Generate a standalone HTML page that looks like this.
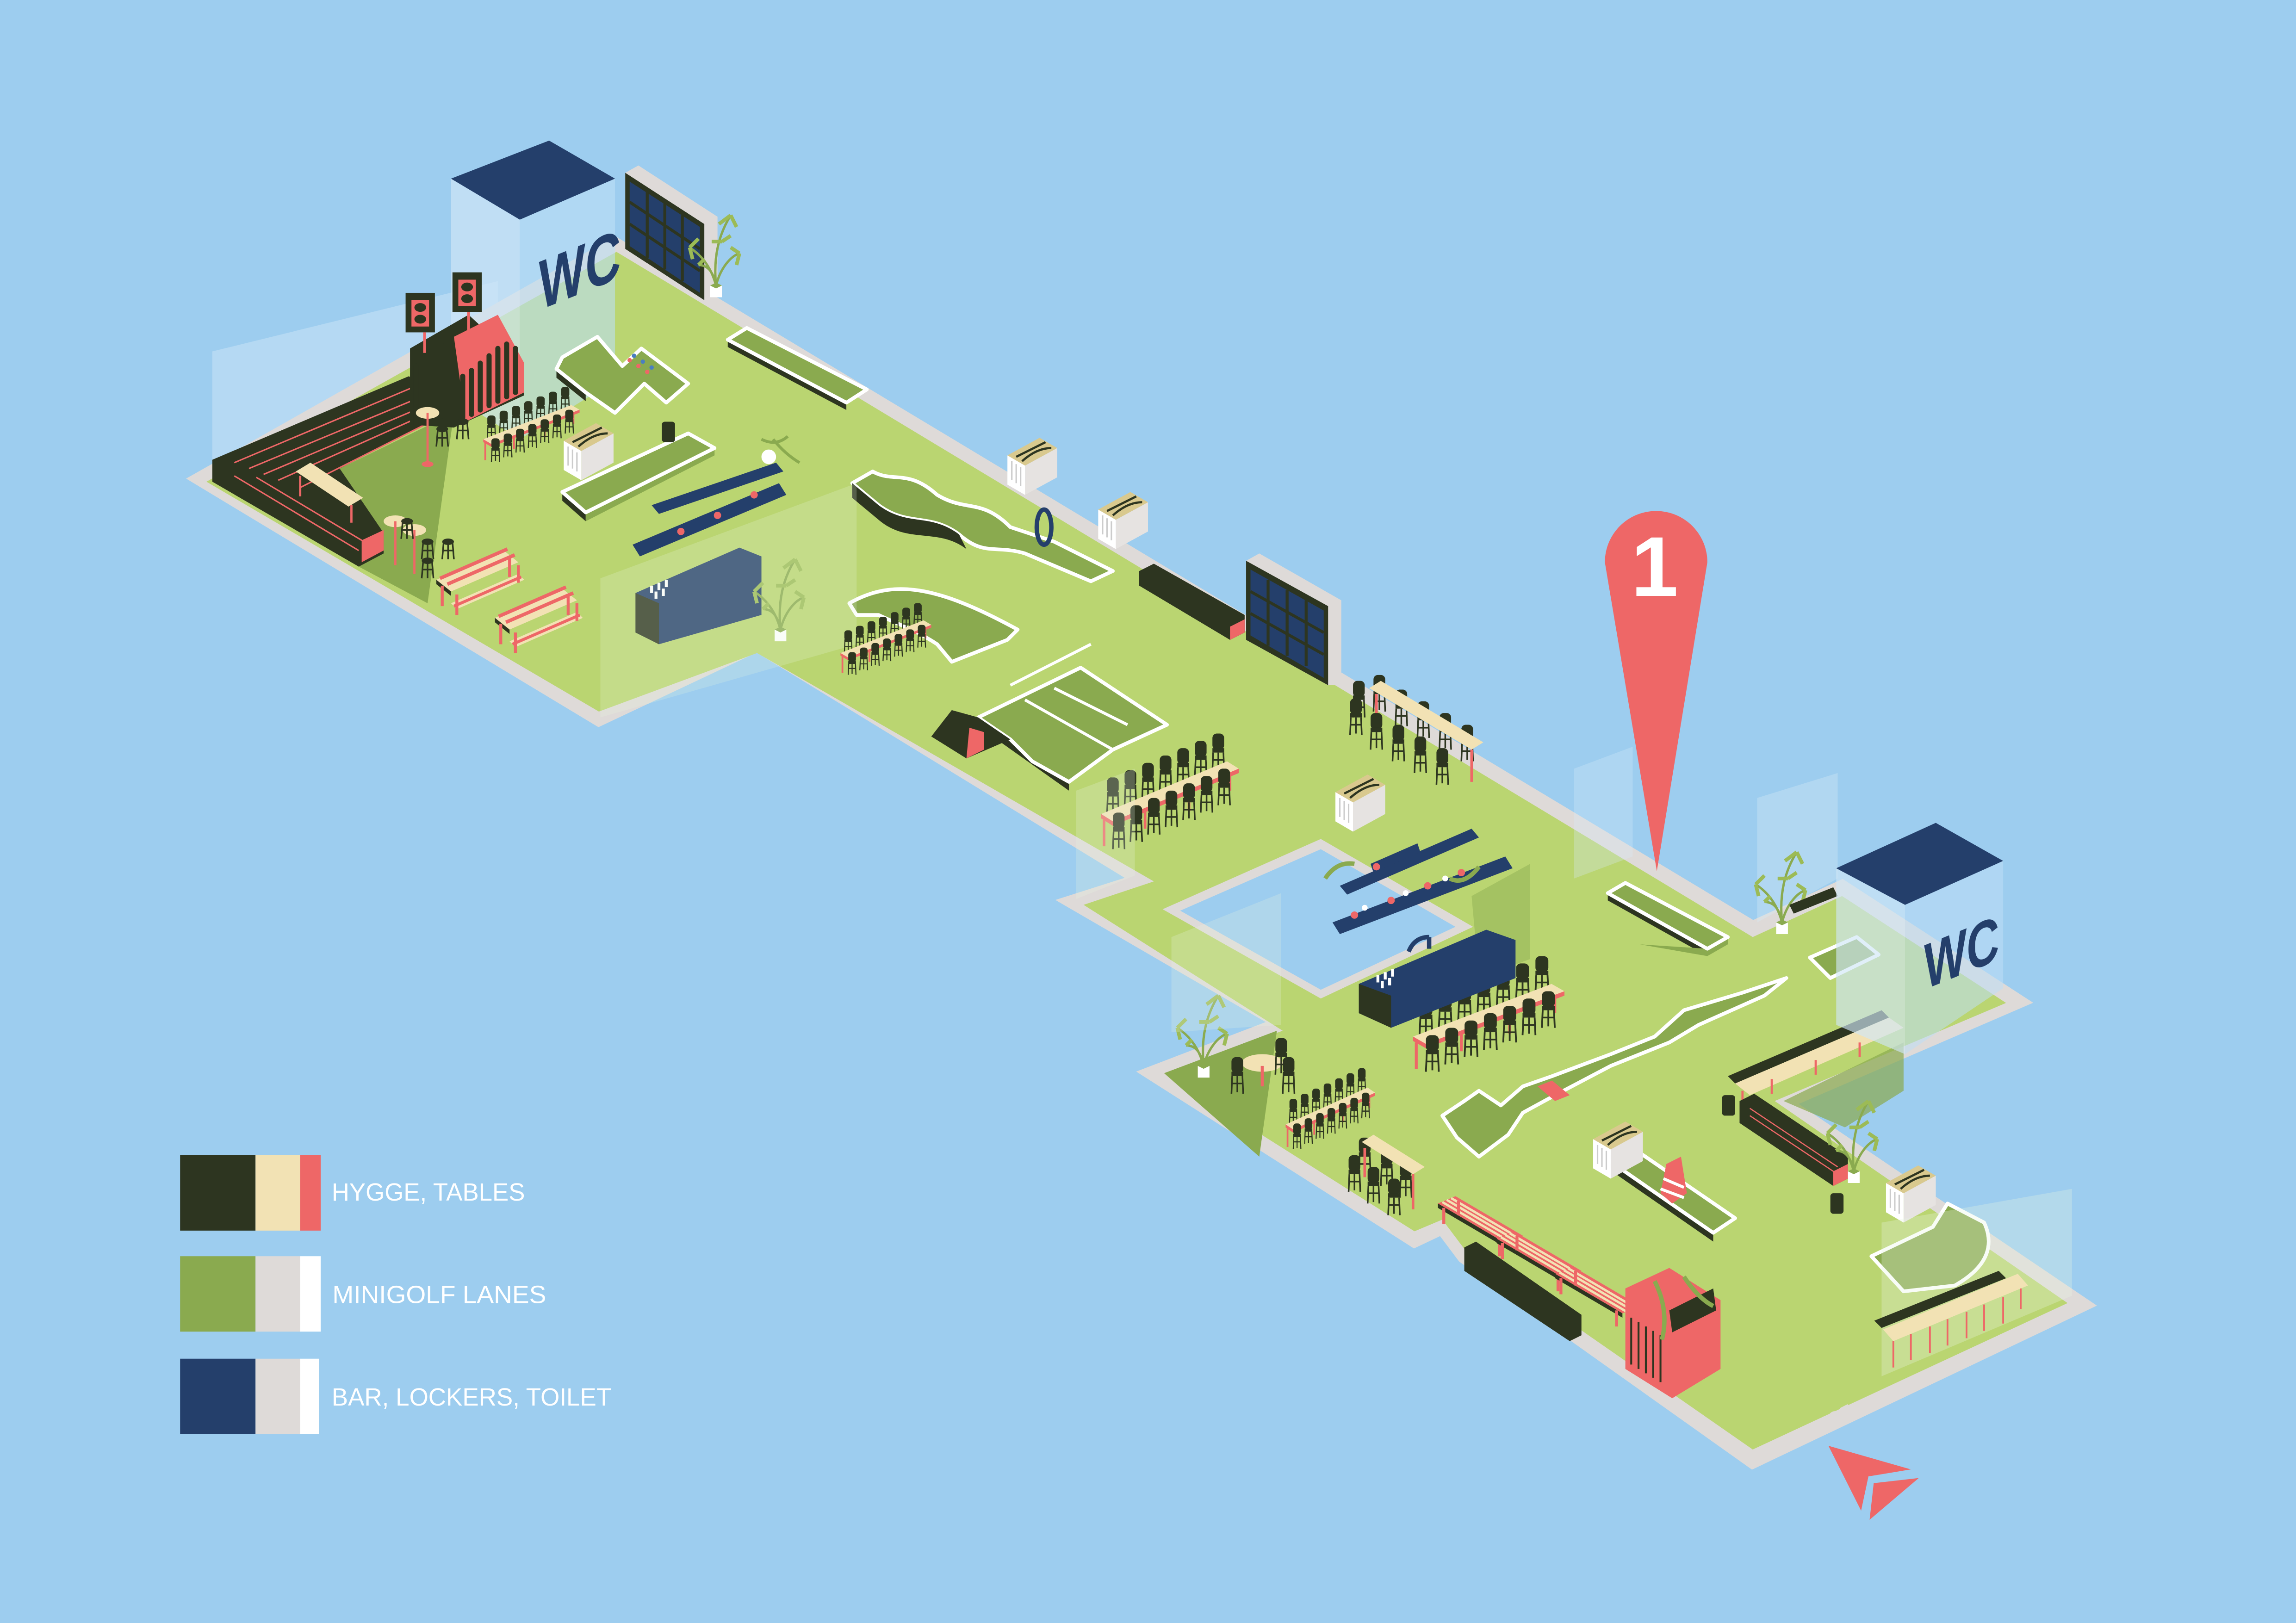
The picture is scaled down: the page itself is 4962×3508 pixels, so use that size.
<!DOCTYPE html>
<html><head><meta charset="utf-8"><style>html,body{margin:0;padding:0;background:#9dcdef}svg{display:block}</style></head>
<body>
<svg width="4962" height="3508" viewBox="0 0 1568 1108.5" xmlns="http://www.w3.org/2000/svg" font-family="'Liberation Sans', sans-serif">
<defs>
<g id="ch"><rect x="-4" y="-13" width="8" height="11" rx="3" fill="#2d3520"/><rect x="-4" y="-3" width="8" height="3" fill="#2d3520"/><path d="M-3.5,0 L-4,12 M3.5,0 L4,12 M0,0 L0,11 M-3.5,5 L3.5,5" stroke="#2d3520" stroke-width="1.1" fill="none"/></g>
<g id="st"><ellipse cx="0" cy="-2" rx="4" ry="2.2" fill="#2d3520"/><path d="M-3,-2 L-4,10 M3,-2 L4,10 M0,-1 L0,10 M-3,4 L3,4" stroke="#2d3520" stroke-width="1.1"/></g>
<g id="tb">
 <use href="#ch" x="8" y="-12"/><use href="#ch" x="20" y="-17"/><use href="#ch" x="32" y="-22"/><use href="#ch" x="44" y="-27"/><use href="#ch" x="56" y="-32"/><use href="#ch" x="68" y="-37"/><use href="#ch" x="80" y="-42"/>
 <path d="M2,4 L2,22 M88,-34 L88,-16 M30,-8 L30,10 M60,-20 L60,-2" stroke="#ee6767" stroke-width="1.8"/>
 <polygon points="0,0 86,-36 94,-31 8,5" fill="#f2e2b4"/><polygon points="0,0 8,5 8,8 0,3" fill="#ee6767"/><polygon points="8,5 94,-31 94,-28 8,8" fill="#ee6767"/>
 <use href="#ch" x="12" y="12"/><use href="#ch" x="24" y="7"/><use href="#ch" x="36" y="2"/><use href="#ch" x="48" y="-3"/><use href="#ch" x="60" y="-8"/><use href="#ch" x="72" y="-13"/><use href="#ch" x="84" y="-18"/>
</g>
<g id="pic">
 <polygon points="0,0 12,-5 58,22 46,27" fill="#ee6767"/>
 <path d="M3,-1 L49,26 M6,-2.5 L52,24.5 M9,-3.7 L55,23.3" stroke="#f2e2b4" stroke-width="1.6"/>
 <polygon points="0,0 46,27 46,30 0,3" fill="#2d3520"/>
 <path d="M4,3 L4,14 M42,25 L42,36 M14,-2 L14,8 M52,22 L52,32" stroke="#ee6767" stroke-width="2"/>
</g>
<g id="picb">
 <polygon points="0,0 46,-20 56,-12 10,8" fill="#f2e2b4"/>
 <path d="M2.5,-1 L48.5,-21 M7.5,3 L53.5,-17" stroke="#ee6767" stroke-width="2.4"/>
 <polygon points="0,0 10,8 10,11 0,3" fill="#2d3520"/>
 <polygon points="10,16 56,-4 60,0 14,20" fill="#f2e2b4"/><path d="M12,18 L58,-2" stroke="#ee6767" stroke-width="2"/>
 <path d="M4,4 v14 M50,-16 v14 M14,10 v14 M56,-10 v12" stroke="#ee6767" stroke-width="2"/>
</g>
<g id="plant"><path d="M0,0 C-2,-20 2,-35 10,-48 M0,0 C-4,-15 -12,-22 -18,-26 M0,0 C3,-12 10,-20 16,-22 M0,0 C-2,-10 -6,-14 -12,-14" stroke="#8aaa4f" stroke-width="1.6" fill="none"/>
 <path d="M10,-48 l-8,6 M10,-48 l4,8 M-18,-26 l6,-6 M-18,-26 l2,8 M16,-22 l-6,-4 M16,-22 l-2,8 M-12,-14 l4,-4 M4,-30 l-7,0 M4,-30 l6,-4" stroke="#9cbb56" stroke-width="2.5"/>
 <rect x="-4" y="0" width="8" height="8" fill="#fff"/><polygon points="-4,0 0,-2 4,0 0,2" fill="#8aaa4f"/></g>
<g id="box"><polygon points="0,0 22,-12 22,8 0,20" fill="#e6e3e1"/><polygon points="0,0 -12,-7 -12,13 0,20" fill="#fff"/><polygon points="-12,-7 10,-19 22,-12 0,0" fill="#d9c98e"/><path d="M-6,-6 L14,-16 M-2,-3 Q8,-12 18,-12" stroke="#2d3520" stroke-width="1.5" fill="none"/><path d="M-9,-3 v13 M-6,-1 v13 M-3,1 v13" stroke="#ccc" stroke-width="1"/></g>
</defs>

<rect width="1568" height="1108.5" fill="#9dcdef"/>
<polygon points="145,240 340,192 340,300 145,314" fill="#c9e4f6" opacity="0.55"/>

<!-- floor -->
<polygon points="137,327 420,167 1197,634 1258,606 1378,684 1218,753 1422,891 1197,998 1000,858 985,838 966,847 787,733 876,699 733,616 780,601 517,440 409,491" fill="#dedad8" stroke="#dedad8" stroke-width="10" stroke-linejoin="miter"/>
<polygon points="141,329 421,172 1197,640 1258,612 1370,685 1212,752 1412,890 1197,990 1000,853 985,833 966,841 795,733 876,704 740,618 788,602 517,446 409,486" fill="#bad571"/>
<polygon points="232,320 310,282 292,412 245,387 262,370" fill="#8aaa4f"/>
<polygon points="795,733 872,704 860,790" fill="#8aaa4f"/>
<polygon points="1218,752 1300,712 1300,745 1260,770" fill="#8aaa4f" opacity="0.7"/>
<polygon points="794,621 902,573 1006,633 902,682" fill="#dedad8"/>
<polygon points="806,622 902,580 994,633 902,676" fill="#9dcdef"/>

<!-- WC left (behind stage) -->
<polygon points="308,122 355,150 355,300 308,270" fill="#cfe6f6" opacity="0.7"/>
<polygon points="355,150 420,122 420,260 355,300" fill="#bddff5" opacity="0.6"/>
<polygon points="308,122 375,96 420,122 355,150" fill="#243f6b"/>
<text x="0" y="0" font-size="48" font-weight="bold" fill="#243f6b" transform="translate(368,212) skewY(-22) scale(0.7,1)">WC</text>

<!-- stage L -->
<polygon points="145,314 279,257 296,262 310,280 232,320 262,364 262,378 245,387 145,329" fill="#2d3520"/>
<path d="M160,316 L288,262 M170,320 L295,268 M180,324 L300,273 M190,328 L304,277 M205,333 L308,281 M160,325 L245,376 M175,326 L252,372" stroke="#ee6767" stroke-width="1"/>
<polygon points="247,369 262,362 262,376 247,384" fill="#ee6767"/>
<polygon points="280,238 320,215 358,250 358,270 310,292 280,290" fill="#2d3520"/>
<polygon points="310,230 340,215 358,248 358,268 318,288" fill="#ee6767"/>
<path d="M316,285 v-28 M322,283 v-30 M328,280 v-32 M334,277 v-34 M340,274 v-36 M346,271 v-36 M352,268 v-30" stroke="#2d3520" stroke-width="3.5" stroke-linecap="round"/>
<path d="M284,290 v-40 M290,288 v-44 M296,286 v-46 M302,284 v-48" stroke="#2d3520" stroke-width="3.5" stroke-linecap="round"/>
<rect x="277" y="200" width="20" height="27" fill="#2d3520"/><rect x="281" y="205" width="12" height="18" fill="#ee6767"/><ellipse cx="287" cy="210" rx="4" ry="3" fill="#2d3520"/><ellipse cx="287" cy="218" rx="4" ry="3" fill="#2d3520"/>
<rect x="309" y="186" width="20" height="27" fill="#2d3520"/><rect x="313" y="191" width="12" height="18" fill="#ee6767"/><ellipse cx="319" cy="196" rx="4" ry="3" fill="#2d3520"/><ellipse cx="319" cy="204" rx="4" ry="3" fill="#2d3520"/>
<path d="M290,227 v14 M320,213 v28" stroke="#ee6767" stroke-width="2"/>
<polygon points="202,322 212,316 248,340 238,346" fill="#f2e2b4"/><path d="M205,325 v14 M240,345 v12" stroke="#ee6767" stroke-width="1.5"/>
<ellipse cx="292" cy="282" rx="8" ry="4" fill="#f2e2b4"/><path d="M292,282 v34" stroke="#ee6767" stroke-width="1.5"/><ellipse cx="292" cy="317" rx="4" ry="2" fill="#ee6767"/>
<ellipse cx="270" cy="356" rx="8" ry="4" fill="#f2e2b4"/><path d="M270,356 v30" stroke="#ee6767" stroke-width="1.5"/>
<ellipse cx="283" cy="362" rx="8" ry="4" fill="#f2e2b4"/><path d="M283,362 v30" stroke="#ee6767" stroke-width="1.5"/>
<use href="#st" x="302" y="295"/><use href="#st" x="316" y="290"/><use href="#st" x="278" y="358"/><use href="#st" x="292" y="372"/><use href="#st" x="306" y="372"/><use href="#st" x="292" y="385"/>

<!-- window wall left -->
<polygon points="427,118 436,113 490,148 490,200 481,205 427,170" fill="#dedad8"/>
<polygon points="427,118 481,153 481,205 427,170" fill="#2d3520"/>
<polygon points="430,124 478,155 478,200 430,168" fill="#243f6b"/>
<path d="M442,131 v45 M454,139 v45 M466,147 v45 M430,138 L478,170 M430,153 L478,185" stroke="#2d3520" stroke-width="2"/>
<use href="#plant" x="489" y="195"/>

<!-- lane side faces -->
<g fill="#2d3520">
<polygon points="497,232 578,275 578,280 497,237"/>
<polygon points="380,252 400,268 400,274 380,258"/>
<polygon points="384,336 400,350 400,356 384,342"/>
<polygon points="400,350 488,306 488,311 400,356" fill="#8aaa4f"/>
<polygon points="668,490 730,534 730,540 668,496"/>
<polygon points="1098,610 1166,648 1166,653 1098,615"/>
<polygon points="1095,790 1170,842 1170,848 1095,796"/>
<polygon points="1120,645 1166,648 1180,640 1180,645 1166,653" fill="#8aaa4f"/>
</g>
<!-- lanes -->
<g stroke="#fff" stroke-width="2.5" fill="#8aaa4f" stroke-linejoin="round">
<polygon points="497,232 510,224 592,266 578,275" />
<polygon points="384,244 408,230 425,250 438,238 470,262 455,275 440,262 420,282 400,268 380,252" />
<polygon points="384,336 470,296 488,306 400,350" />
<path d="M582,330 L596,322 C610,330 620,320 640,338 C660,350 670,340 690,360 L720,370 L760,390 L745,397 L700,378 C680,372 672,380 655,365 C635,350 620,360 600,345 Z" />
<path d="M580,412 C610,395 640,400 695,430 L688,437 L650,452 L640,440 C625,430 610,425 600,420 L585,420 Z" />
<polygon points="668,490 738,456 797,495 760,512 730,534 705,520 690,505" />
<polygon points="1098,610 1110,603 1180,640 1166,648" />
<polygon points="985,762 1000,752 1010,745 1025,755 1040,742 1060,735 1100,720 1130,708 1150,690 1190,678 1220,668 1205,680 1160,700 1140,712 1100,728 1062,748 1040,760 1030,775 1010,790 995,777" />
<polygon points="1095,790 1112,782 1185,832 1170,842" />
<path d="M1278,858 L1320,838 L1330,822 L1355,835 C1362,850 1358,865 1335,878 L1300,882 Z" />
<polygon points="1236,654 1268,640 1283,652 1250,668" />
</g>
<path d="M700,478 L760,512 M690,468 L745,440 M720,470 L770,495" stroke="#fff" stroke-width="2" fill="none"/>
<path d="M582,330 L600,345 C620,360 635,350 655,365 L660,375 C640,360 620,372 600,355 L582,340 Z" fill="#2d3520"/>
<polygon points="650,485 668,490 690,505 660,518 636,503" fill="#2d3520"/>
<polygon points="660,518 672,512 672,500 662,497 660,518" fill="#ee6767"/>
<polygon points="1050,742 1060,738 1072,748 1062,752" fill="#ee6767"/>
<polygon points="1138,795 1148,790 1152,815 1142,822 1134,815" fill="#ee6767"/><path d="M1136,805 l14,6 M1134,812 l16,6" stroke="#fff" stroke-width="2"/>
<ellipse cx="713" cy="360" rx="5" ry="12" fill="none" stroke="#243f6b" stroke-width="3"/>
<g fill="#ee6767"><circle cx="430" cy="246" r="1.5"/><circle cx="436" cy="250" r="1.5"/><circle cx="442" cy="254" r="1.5"/></g>
<g fill="#4a7fc0"><circle cx="433" cy="243" r="1.5"/><circle cx="439" cy="247" r="1.5"/><circle cx="445" cy="251" r="1.5"/></g>

<use href="#box" x="397" y="308"/><use href="#box" x="700" y="318"/><use href="#box" x="762" y="355"/><use href="#box" x="924" y="548"/><use href="#box" x="1100" y="785"/><use href="#box" x="1300" y="815"/>
<rect x="452" y="288" width="9" height="14" rx="2" fill="#2d3520"/><rect x="1176" y="748" width="9" height="14" rx="2" fill="#2d3520"/><rect x="1250" y="815" width="9" height="14" rx="2" fill="#2d3520"/>

<polygon points="445,345 530,316 535,322 450,351" fill="#243f6b"/>
<polygon points="432,372 532,330 537,338 437,380" fill="#243f6b"/>
<circle cx="525" cy="312" r="5" fill="#fff"/><path d="M520,300 q10,5 18,-2 M528,300 q8,10 18,16" stroke="#8aaa4f" stroke-width="2" fill="none"/>
<g fill="#ee6767"><circle cx="465" cy="363" r="2.5"/><circle cx="490" cy="352" r="2.5"/><circle cx="515" cy="338" r="2.5"/></g>
<polygon points="434,405 505,374 520,380 520,420 450,440 434,432" fill="#243f6b"/>
<polygon points="434,405 450,412 450,440 434,432" fill="#2d3520"/>
<g fill="#fff"><rect x="444" y="400" width="2" height="5"/><rect x="449" y="398" width="2" height="5"/><rect x="454" y="396" width="2" height="5"/><rect x="447" y="404" width="2" height="5"/><rect x="452" y="402" width="2" height="5"/></g>
<use href="#plant" x="533" y="430"/>
<polygon points="410,395 585,330 585,440 410,490" fill="#e8f4e0" opacity="0.22"/>

<!-- picnic tables -->
<use href="#picb" x="298" y="396"/><use href="#picb" x="338" y="422"/>
<use href="#pic" x="982" y="822"/><use href="#pic" x="1022" y="846"/><use href="#pic" x="1062" y="870"/>

<!-- table sets -->
<g transform="translate(330,300) scale(0.7,0.65)"><use href="#tb"/></g>
<g transform="translate(574,446) scale(0.66,0.62)"><use href="#tb"/></g>
<g transform="translate(752,556)"><use href="#tb"/></g>
<g transform="translate(965,708) scale(1.1,1)"><use href="#tb"/></g>
<g transform="translate(878,768) scale(0.65,0.7)"><use href="#tb"/></g>
<g>
<use href="#ch" x="928" y="478"/><use href="#ch" x="942" y="474"/><use href="#ch" x="957" y="484"/><use href="#ch" x="972" y="492"/><use href="#ch" x="987" y="500"/><use href="#ch" x="1002" y="508"/>
<polygon points="935,470 943,465 1013,507 1005,512" fill="#f2e2b4"/><path d="M1005,512 v22 M940,474 v20" stroke="#ee6767" stroke-width="1.8"/>
<use href="#ch" x="926" y="490"/><use href="#ch" x="940" y="500"/><use href="#ch" x="955" y="508"/><use href="#ch" x="970" y="516"/><use href="#ch" x="985" y="524"/>
</g>
<g>
<use href="#ch" x="932" y="790"/><use href="#ch" x="947" y="798"/><use href="#ch" x="960" y="806"/>
<polygon points="930,780 938,775 973,797 965,802" fill="#f2e2b4"/><path d="M965,802 v24 M932,784 v20" stroke="#ee6767" stroke-width="1.8"/>
<use href="#ch" x="925" y="802"/><use href="#ch" x="938" y="810"/><use href="#ch" x="952" y="818"/>
</g>
<ellipse cx="862" cy="726" rx="14" ry="6" fill="#f2e2b4"/><path d="M862,728 v14" stroke="#ee6767" stroke-width="2"/><use href="#ch" x="845" y="735"/><use href="#ch" x="880" y="735"/><use href="#ch" x="875" y="722"/>
<use href="#plant" x="822" y="728"/>

<polygon points="778,390 788,385 850,420 850,432 840,437 778,400" fill="#2d3520"/><polygon points="840,428 850,423 850,432 840,437" fill="#ee6767"/>
<polygon points="851,383 860,378 916,410 916,468 907,468 851,437" fill="#dedad8"/>
<polygon points="851,383 907,414 907,468 851,437" fill="#2d3520"/>
<polygon points="854,389 904,417 904,463 854,434" fill="#243f6b"/>
<path d="M866,396 v45 M879,403 v45 M892,410 v45 M854,404 L904,432 M854,419 L904,447" stroke="#2d3520" stroke-width="2"/>

<polygon points="915,605 1005,566 1010,572 920,611" fill="#243f6b"/>
<polygon points="910,630 1028,585 1033,593 915,638" fill="#243f6b"/>
<polygon points="936,590 968,576 970,582 938,596" fill="#243f6b"/>
<g fill="#ee6767"><circle cx="925" cy="625" r="2.5"/><circle cx="950" cy="615" r="2.5"/><circle cx="975" cy="605" r="2.5"/><circle cx="998" cy="596" r="2.5"/><circle cx="940" cy="592" r="2.5"/></g>
<g fill="#fff"><circle cx="932" cy="620" r="2"/><circle cx="960" cy="610" r="2"/><circle cx="987" cy="600" r="2"/></g>
<path d="M905,600 q8,-12 20,-10 M990,600 q10,5 20,-8" stroke="#8aaa4f" stroke-width="3" fill="none"/>
<polygon points="1005,612 1045,590 1045,655 1010,668" fill="#8aaa4f" opacity="0.45"/>
<polygon points="928,672 1015,635 1035,642 1035,668 950,702 928,692" fill="#243f6b"/>
<polygon points="928,672 950,680 950,702 928,692" fill="#2d3520"/>
<path d="M962,650 q4,-10 14,-10 M976,640 v8" stroke="#243f6b" stroke-width="3" fill="none"/>
<g fill="#fff"><rect x="940" y="666" width="2" height="5"/><rect x="945" y="664" width="2" height="5"/><rect x="950" y="662" width="2" height="5"/><rect x="943" y="670" width="2" height="5"/><rect x="948" y="668" width="2" height="5"/></g>
<polygon points="735,540 775,525 775,598 735,614" fill="#e8f4e0" opacity="0.25"/>
<polygon points="800,640 875,610 875,700 800,705" fill="#e8f4e0" opacity="0.25"/>
<polygon points="1075,525 1115,510 1115,585 1075,600" fill="#d8ecf7" opacity="0.3"/>
<polygon points="1200,545 1255,528 1255,600 1200,630" fill="#d8ecf7" opacity="0.35"/>
<polygon points="1285,835 1415,812 1415,885 1285,940" fill="#e8f4e0" opacity="0.3"/>

<use href="#plant" x="1217" y="630"/>
<polygon points="1222,618 1252,606 1255,612 1225,624" fill="#2d3520"/>
<polygon points="1180,735 1285,690 1290,695 1185,740" fill="#2d3520"/>
<polygon points="1185,740 1290,695 1300,702 1195,748" fill="#f2e2b4"/><path d="M1190,745 v14 M1210,737 v10 M1240,724 v10 M1270,712 v10" stroke="#ee6767" stroke-width="1.5"/>
<polygon points="1188,752 1198,747 1262,790 1262,805 1252,810 1188,767" fill="#2d3520"/><polygon points="1252,800 1262,795 1262,805 1252,810" fill="#ee6767"/>
<path d="M1195,757 L1255,797 M1195,762 L1255,802" stroke="#ee6767" stroke-width="0.8"/>
<use href="#plant" x="1266" y="800"/>
<polygon points="1280,902 1365,868 1370,873 1285,907" fill="#2d3520"/>
<polygon points="1286,908 1378,870 1385,878 1293,916" fill="#f2e2b4"/>
<path d="M1293,916 v18 M1305,911 v18 M1318,906 v18 M1330,901 v18 M1343,896 v18 M1355,891 v18 M1368,886 v18 M1380,880 v14" stroke="#ee6767" stroke-width="1.2"/>
<polygon points="1000,852 1008,848 1080,898 1080,912 1072,916 1000,868" fill="#2d3520"/>
<polygon points="1110,880 1140,866 1175,888 1175,935 1142,955 1110,935" fill="#ee6767"/>
<path d="M1114,900 v32 M1119,903 v32 M1124,906 v32 M1129,909 v32 M1134,912 v32" stroke="#2d3520" stroke-width="1.3"/>
<polygon points="1140,895 1170,880 1172,895 1142,910" fill="#2d3520"/>
<path d="M1130,875 q10,20 5,40 M1150,872 q10,15 20,20" stroke="#8aaa4f" stroke-width="3" fill="none"/>

<polygon points="1254,593 1301,618 1301,720 1254,700" fill="#cfe6f6" opacity="0.65"/>
<polygon points="1301,618 1368,588 1368,675 1301,720" fill="#bddff5" opacity="0.55"/>
<polygon points="1254,593 1322,562 1368,588 1301,618" fill="#243f6b"/>
<text x="0" y="0" font-size="44" font-weight="bold" fill="#243f6b" transform="translate(1314,676) skewY(-22) scale(0.7,1)">WC</text>

<path d="M1096,384 A35,35 0 0 1 1166,384 L1131.5,595 Z" fill="#ee6767"/>
<text x="1130" y="407" font-size="58" font-weight="bold" fill="#fff" text-anchor="middle">1</text>

<text x="0" y="0" font-size="11" font-weight="bold" fill="#dedad8" letter-spacing="1.5" transform="translate(1202,998) rotate(-27)">ENTRANCE</text>
<polygon points="1248.7,987.5 1305,1003.6 1276,1008.4 1271,1031.8" fill="#ee6767"/>
<polygon points="1279.6,1013 1310.4,1009.5 1276.8,1038" fill="#ee6767"/>

<rect x="123" y="789" width="51.5" height="51.5" fill="#2d3520"/><rect x="174.5" y="789" width="30.5" height="51.5" fill="#f2e2b4"/><rect x="205" y="789" width="14" height="51.5" fill="#ee6767"/>
<rect x="123" y="858" width="51.5" height="51.5" fill="#8aaa4f"/><rect x="174.5" y="858" width="30.5" height="51.5" fill="#dedad8"/><rect x="205" y="858" width="14" height="51.5" fill="#ffffff"/>
<rect x="123" y="928" width="51.5" height="51.5" fill="#243f6b"/><rect x="174.5" y="928" width="30.5" height="51.5" fill="#dedad8"/><rect x="205" y="928" width="13" height="51.5" fill="#ffffff"/>
<text x="226.5" y="820" font-size="17" fill="#fff" textLength="132" lengthAdjust="spacingAndGlyphs">HYGGE, TABLES</text>
<text x="227" y="890" font-size="17" fill="#fff" textLength="146" lengthAdjust="spacingAndGlyphs">MINIGOLF LANES</text>
<text x="226.5" y="960" font-size="17" fill="#fff" textLength="191" lengthAdjust="spacingAndGlyphs">BAR, LOCKERS, TOILET</text>
</svg>
</body></html>
